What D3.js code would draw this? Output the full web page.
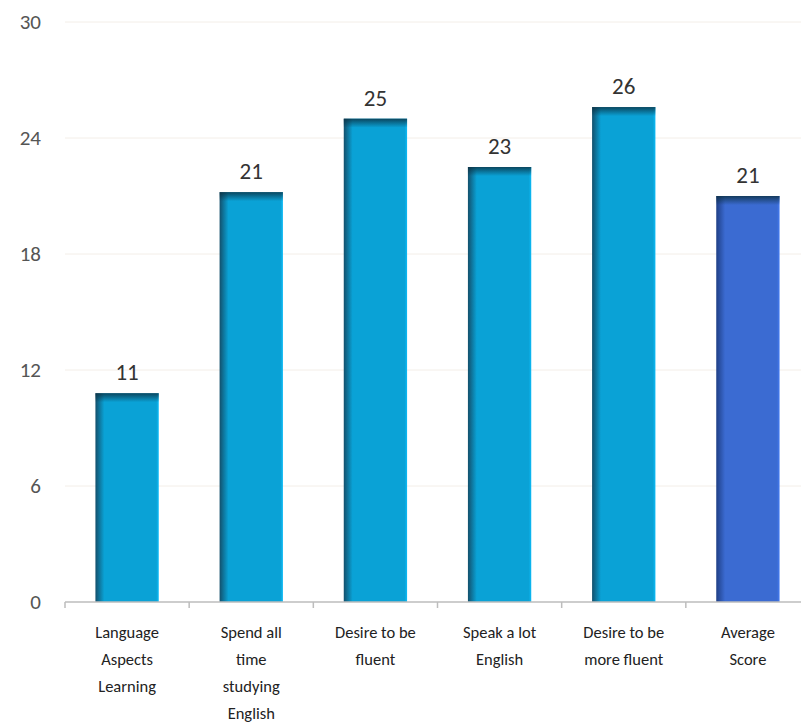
<!DOCTYPE html>
<html>
<head>
<meta charset="utf-8">
<script src="https://cdn.jsdelivr.net/npm/d3@7"></script>
<style>
  html, body { margin: 0; padding: 0; background: #fff; }
  svg { display: block; }
</style>
</head>
<body>
<div id="container"></div>
<script>
const categories = [
    ['Language', 'Aspects', 'Learning'],
    ['Spend all', 'time', 'studying', 'English'],
    ['Desire to be', 'fluent'],
    ['Speak a lot', 'English'],
    ['Desire to be', 'more fluent'],
    ['Average', 'Score']
];
const values = [10.8, 21.2, 25.0, 22.5, 25.6, 21.0];
const valueLabels = ['11', '21', '25', '23', '26', '21'];
const yTicks = [0, 6, 12, 18, 24, 30];

const W = 801, H = 726;
const font = 'Carlito, Calibri, Lato, sans-serif';

const svg = d3.select('#container')
    .append('svg')
    .attr('width', W)
    .attr('height', H);

const defs = svg.append('defs');

const makeGrad = (id, dark, main) => {
    const g = defs.append('linearGradient').attr('id', id)
        .attr('x1', '0%').attr('x2', '100%').attr('y1', '0%').attr('y2', '0%');
    g.append('stop').attr('offset', '0%').attr('stop-color', dark);
    g.append('stop').attr('offset', '14%').attr('stop-color', main);
    g.append('stop').attr('offset', '96%').attr('stop-color', main);
    g.append('stop').attr('offset', '100%').attr('stop-color', d3.color(main).brighter(0.4));
};
makeGrad('barGrad', '#13506c', '#0aa2d6');
makeGrad('avgGrad', '#1f3f86', '#3b6bd2');

const topGrad = defs.append('linearGradient').attr('id', 'topGrad')
    .attr('x1', '0%').attr('x2', '0%').attr('y1', '0%').attr('y2', '100%');
topGrad.append('stop').attr('offset', '0%').attr('stop-color', '#0b2f40').attr('stop-opacity', 0.8);
topGrad.append('stop').attr('offset', '100%').attr('stop-color', '#0b2f40').attr('stop-opacity', 0);

const x = d3.scaleBand()
    .domain(d3.range(categories.length))
    .range([65, 810])
    .paddingInner(0.49)
    .paddingOuter(0.245);

const y = d3.scaleLinear()
    .domain([0, 30])
    .range([602, 22]);

// gridlines
svg.append('g')
    .selectAll('line')
    .data(yTicks.filter(t => t > 0))
    .join('line')
    .attr('x1', 65)
    .attr('x2', 801)
    .attr('y1', d => y(d))
    .attr('y2', d => y(d))
    .attr('stroke', '#f3eee8')
    .attr('stroke-width', 1);

// y tick labels
svg.append('g')
    .selectAll('text')
    .data(yTicks)
    .join('text')
    .attr('x', 41)
    .attr('y', d => y(d))
    .attr('dy', '0.35em')
    .attr('text-anchor', 'end')
    .attr('font-family', font)
    .attr('font-size', 21)
    .attr('fill', '#555')
    .text(d => d);

// bars
const bars = svg.append('g')
    .selectAll('g')
    .data(values)
    .join('g');

bars.append('rect')
    .attr('x', (d, i) => x(i))
    .attr('y', d => y(d))
    .attr('width', x.bandwidth())
    .attr('height', d => y(0) - y(d))
    .attr('fill', (d, i) => i === values.length - 1 ? 'url(#avgGrad)' : 'url(#barGrad)');

// shaded top edge
bars.append('rect')
    .attr('x', (d, i) => x(i))
    .attr('y', d => y(d))
    .attr('width', x.bandwidth())
    .attr('height', 9)
    .attr('fill', 'url(#topGrad)');

// value labels
svg.append('g')
    .selectAll('text')
    .data(values)
    .join('text')
    .attr('x', (d, i) => x(i) + x.bandwidth() / 2)
    .attr('y', d => y(d) - 13)
    .attr('text-anchor', 'middle')
    .attr('font-family', font)
    .attr('font-size', 23)
    .attr('fill', '#333')
    .text((d, i) => valueLabels[i]);

// x axis line and ticks
const gap = (x.step() - x.bandwidth()) / 2;
const axis = svg.append('g');
axis.append('line')
    .attr('x1', 65).attr('x2', 801)
    .attr('y1', y(0)).attr('y2', y(0))
    .attr('stroke', '#bdbdbd').attr('stroke-width', 1.5);
axis.selectAll('.tick')
    .data(d3.range(categories.length))
    .join('line')
    .attr('class', 'tick')
    .attr('x1', i => x(i) - gap)
    .attr('x2', i => x(i) - gap)
    .attr('y1', y(0)).attr('y2', y(0) + 6)
    .attr('stroke', '#bdbdbd').attr('stroke-width', 1.5);

// category labels
const catLabels = svg.append('g')
    .selectAll('text')
    .data(categories)
    .join('text')
    .attr('text-anchor', 'middle')
    .attr('font-family', font)
    .attr('font-size', 16.5)
    .attr('fill', '#222');

catLabels.selectAll('tspan')
    .data((d, i) => d.map(line => ({ line, i })))
    .join('tspan')
    .attr('x', d => x(d.i) + x.bandwidth() / 2)
    .attr('y', (d, j) => 638 + j * 27)
    .text(d => d.line);
</script>
</body>
</html>
